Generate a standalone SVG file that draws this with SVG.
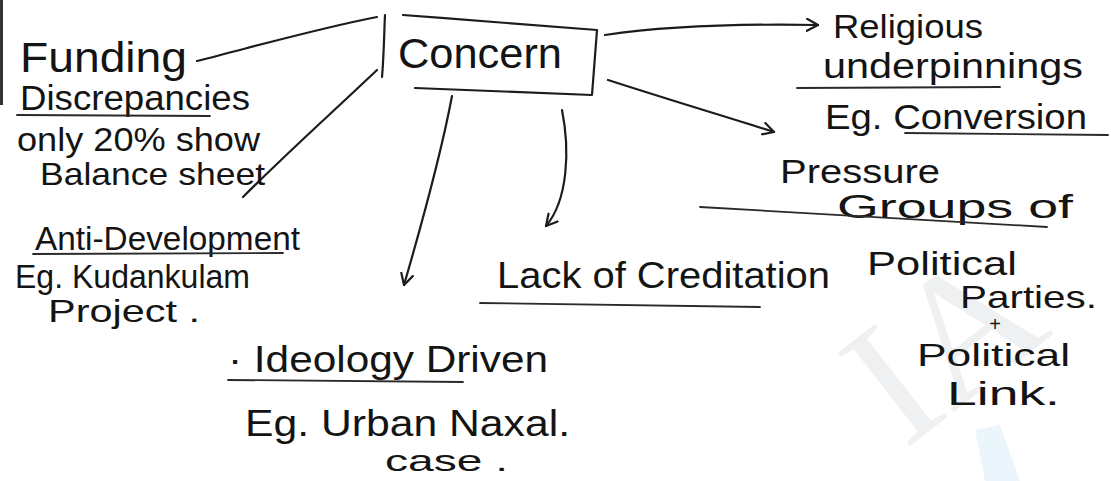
<svg xmlns="http://www.w3.org/2000/svg" width="1111" height="481" viewBox="0 0 1111 481">
  <style>
    .hand { font-family: "Liberation Sans", "DejaVu Sans", sans-serif; fill: #141414; }
    .ink { fill: none; stroke: #1c1c1c; stroke-width: 2.2; stroke-linecap: round; stroke-linejoin: round; }
    .rule { fill: none; stroke: #2a2a2a; stroke-width: 1.8; stroke-linecap: round; }
    .wm { font-family: "Liberation Serif", "DejaVu Serif", serif; fill: #eef0f2; }
  </style>
  <defs>
    <marker id="head" viewBox="0 0 14 14" refX="12" refY="7" markerWidth="14" markerHeight="14" markerUnits="userSpaceOnUse" orient="auto">
      <path d="M1,1 L12,7 L1,13" fill="none" stroke="#1c1c1c" stroke-width="2.2" stroke-linecap="round" stroke-linejoin="round"/>
    </marker>
  </defs>

  <rect width="1111" height="481" fill="#ffffff"/>

  <!-- faint background watermark -->
  <g id="watermark">
    <polygon points="985,481 1020,481 1000,425 975,430" fill="#eaf6fc"/>
    <text class="wm" x="0" y="0" font-size="180" transform="translate(905,450) rotate(-38)">IA</text>
  </g>

  <!-- page edge -->
  <line x1="1.5" y1="0" x2="1.5" y2="105" stroke="#333" stroke-width="3"/>

  <g id="connectors">
    <path class="ink" d="M197,61 C260,45 320,28 377,17"/>
    <path class="ink" d="M243,197 C290,150 335,110 377,70"/>
    <path class="ink" d="M605,35 C680,24 760,24 818,25" marker-end="url(#head)"/>
    <path class="ink" d="M608,80 C670,100 730,118 774,132" marker-end="url(#head)"/>
    <path class="ink" d="M452,96 C440,160 420,230 404,285" marker-end="url(#head)"/>
    <path class="ink" d="M562,110 C570,150 568,200 546,226" marker-end="url(#head)"/>
  </g>

  <g id="concern">
    <path class="ink" d="M385,15 C384,35 384,55 382,77"/>
    <path class="ink" d="M403,15 C470,20 540,26 597,30 L592,95 C530,93 470,90 415,88"/>
    <text class="hand" x="398" y="68" font-size="42" textLength="164" lengthAdjust="spacingAndGlyphs">Concern</text>
  </g>

  <g id="funding">
    <text class="hand" x="20" y="72" font-size="42" textLength="167" lengthAdjust="spacingAndGlyphs">Funding</text>
    <text class="hand" x="20" y="110" font-size="35" textLength="230" lengthAdjust="spacingAndGlyphs">Discrepancies</text>
    <line class="rule" x1="17" y1="115" x2="210" y2="116"/>
    <text class="hand" x="17" y="151" font-size="34" textLength="243" lengthAdjust="spacingAndGlyphs">only 20% show</text>
    <text class="hand" x="40" y="185" font-size="32" textLength="225" lengthAdjust="spacingAndGlyphs">Balance sheet</text>
  </g>

  <g id="anti-development">
    <text class="hand" x="35" y="250" font-size="34" textLength="265" lengthAdjust="spacingAndGlyphs">Anti-Development</text>
    <line class="rule" x1="33" y1="254" x2="283" y2="253"/>
    <text class="hand" x="15" y="288" font-size="34" textLength="235" lengthAdjust="spacingAndGlyphs">Eg. Kudankulam</text>
    <text class="hand" x="48" y="322" font-size="32" textLength="152" lengthAdjust="spacingAndGlyphs">Project .</text>
  </g>

  <g id="ideology">
    <text class="hand" x="228" y="372" font-size="36" textLength="320" lengthAdjust="spacingAndGlyphs">· Ideology Driven</text>
    <line class="rule" x1="228" y1="380" x2="463" y2="382"/>
    <text class="hand" x="245" y="436" font-size="36" textLength="325" lengthAdjust="spacingAndGlyphs">Eg. Urban Naxal.</text>
    <text class="hand" x="385" y="471" font-size="30" textLength="123" lengthAdjust="spacingAndGlyphs">case .</text>
  </g>

  <g id="accreditation">
    <text class="hand" x="497" y="288" font-size="36" textLength="333" lengthAdjust="spacingAndGlyphs">Lack of Creditation</text>
    <line class="rule" x1="480" y1="303" x2="760" y2="307"/>
  </g>

  <g id="religious">
    <text class="hand" x="833" y="38" font-size="34" textLength="150" lengthAdjust="spacingAndGlyphs">Religious</text>
    <text class="hand" x="823" y="78" font-size="35" textLength="260" lengthAdjust="spacingAndGlyphs">underpinnings</text>
    <line class="rule" x1="797" y1="88" x2="1000" y2="87"/>
    <text class="hand" x="825" y="129" font-size="35" textLength="262" lengthAdjust="spacingAndGlyphs">Eg. Conversion</text>
    <line class="rule" x1="905" y1="133" x2="1108" y2="135"/>
  </g>

  <g id="pressure">
    <text class="hand" x="780" y="183" font-size="34" textLength="160" lengthAdjust="spacingAndGlyphs">Pressure</text>
    <text class="hand" x="837" y="218" font-size="34" textLength="236" lengthAdjust="spacingAndGlyphs">Groups of</text>
    <line class="rule" x1="700" y1="207" x2="1047" y2="227"/>
    <text class="hand" x="867" y="275" font-size="34" textLength="150" lengthAdjust="spacingAndGlyphs">Political</text>
    <text class="hand" x="960" y="308" font-size="32" textLength="137" lengthAdjust="spacingAndGlyphs">Parties.</text>
    <text class="hand" x="995" y="331" font-size="20" text-anchor="middle">+</text>
    <text class="hand" x="917" y="366" font-size="32" textLength="153" lengthAdjust="spacingAndGlyphs">Political</text>
    <text class="hand" x="947" y="405" font-size="34" textLength="113" lengthAdjust="spacingAndGlyphs">Link.</text>
  </g>
</svg>
